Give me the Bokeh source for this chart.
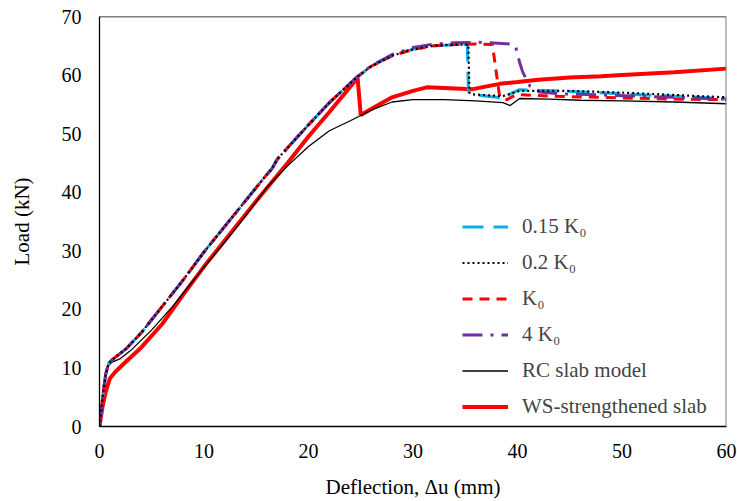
from bokeh.plotting import figure
from bokeh.models import Legend, LegendItem, FixedTicker, Range1d, Span
from bokeh.embed import file_html
from bokeh.resources import INLINE

# ---------------- data ----------------
x_ticks = [0, 10, 20, 30, 40, 50, 60]
y_ticks = [0, 10, 20, 30, 40, 50, 60, 70]

# 0.15 K0
k015_x = [0, 0.3, 0.6, 0.9, 1.5, 2.5, 4, 6, 8, 10, 12, 14, 16, 16.5, 17, 18, 20, 22, 24.6, 26, 28, 30, 32, 34, 35.2,
          35.3, 36, 38, 38.8, 39.3, 40.2, 45, 50, 55, 60]
k015_y = [0, 5, 9, 10.9, 11.8, 13.2, 16, 20.5, 25, 29.8, 34.2, 38.6, 43, 44, 45.6, 47.6, 51.5, 55.3, 59.6, 61.5, 63.3, 64.4, 65, 65.2, 65.2,
          57.2, 56.6, 56.2, 55.9, 56.8, 57.5, 57.2, 56.8, 56.4, 56.0]

# 0.2 K0
k02_x = [0, 0.3, 0.6, 0.9, 1.5, 2.5, 4, 6, 8, 10, 12, 14, 16, 16.5, 17, 18, 20, 22, 24.6, 26, 28, 30, 32, 34, 35.3,
         35.4, 35.7, 38.6, 40.2, 45, 50, 55, 60]
k02_y = [0, 5, 9, 10.9, 11.8, 13.2, 16, 20.5, 25, 29.8, 34.2, 38.6, 43, 44, 45.6, 47.6, 51.5, 55.3, 59.6, 61.5, 63.3, 64.4, 65, 65.2, 65.2,
         57.0, 56.7, 56.4, 57.3, 57.3, 57.0, 56.6, 56.2]

# K0
k1_x = [0, 0.3, 0.6, 0.9, 1.5, 2.5, 4, 6, 8, 10, 12, 14, 16, 16.5, 17, 18, 20, 22, 24.6, 26, 28, 30, 32, 34, 36, 37.6,
        38.3, 39.0, 39.9, 43, 50, 55, 60]
k1_y = [0, 5, 9, 10.9, 11.8, 13.2, 16, 20.5, 25, 29.8, 34.2, 38.6, 43, 44, 45.6, 47.6, 51.5, 55.3, 59.6, 61.5, 63.3, 64.4, 65, 65.2, 65.3, 65.2,
        56.2, 55.8, 56.7, 56.4, 56.1, 55.9, 55.8]

# 4 K0
k4_x = [0, 0.3, 0.6, 0.9, 1.5, 2.5, 4, 6, 8, 10, 12, 14, 16, 16.5, 17, 18, 20, 22, 24.6, 26, 28, 30, 32, 34, 36.4, 39.3, 39.8,
        40.2, 40.5, 41.2, 42.1, 44, 48, 55, 60]
k4_y = [0, 5, 9, 10.9, 11.8, 13.2, 16, 20.5, 25, 29.8, 34.2, 38.6, 43, 44, 45.6, 47.6, 51.5, 55.3, 59.6, 61.6, 63.5, 64.7, 65.3, 65.5, 65.6, 65.3, 65.0,
        62.2, 60.5, 58.1, 57.1, 56.8, 56.6, 56.2, 55.9]

# RC slab model
rc_x = [0, 0.2, 0.5, 0.8, 1.2, 2, 3, 5, 7, 9, 10, 12, 14, 16, 18, 20, 22, 24, 26, 28, 30, 33, 36, 38.6, 39.3, 40.2, 43, 46, 50, 55, 60]
rc_y = [0, 4, 8, 10.3, 11, 11.6, 13, 16.5, 20.5, 25, 27.2, 31.5, 36, 40.8, 44.5, 47.8, 50.5, 52.2, 54, 55.4, 55.8, 55.8, 55.6, 55.3, 54.8, 56, 55.9, 55.7, 55.6, 55.4, 55.1]

# WS-strengthened slab
ws_x = [0, 0.3, 0.6, 1, 1.5, 2.5, 4, 6, 8, 10, 12, 15, 18, 20, 22, 24.7,
        25.0, 26, 28, 30, 31.3, 33, 35.7, 38.3, 40, 42, 45, 48, 50, 55, 60]
ws_y = [0, 3.5, 6, 8.2, 9.3, 11, 13.5, 17.5, 22.5, 27.3, 31.8, 38.5, 45, 49.5, 53.7, 59.5,
        53.2, 54.2, 56.2, 57.3, 57.9, 57.8, 57.6, 58.5, 58.8, 59.2, 59.6, 59.8, 60.0, 60.5, 61.1]

labels = ["0.15 K\u2080", "0.2 K\u2080", "K\u2080", "4 K\u2080", "RC slab model", "WS-strengthened slab"]

# ---------------- figure ----------------
FONT = "Liberation Serif"
p = figure(width=737, height=501, output_backend="svg", toolbar_location=None,
           x_range=Range1d(0, 60), y_range=Range1d(0, 70),
           min_border_left=99, min_border_right=11, min_border_top=16, min_border_bottom=72)
p.xgrid.visible = False
p.ygrid.visible = False
p.outline_line_color = None
p.background_fill_color = "white"
p.border_fill_color = "white"

r_ws = p.line(ws_x, ws_y, line_color="#FF0000", line_width=4)
r_rc = p.line(rc_x, rc_y, line_color="black", line_width=1.3)
r_015 = p.line(k015_x, k015_y, line_color="#00B0F0", line_width=3, line_dash="21 10")
r_k1 = p.line(k1_x, k1_y, line_color="#FF0000", line_width=3, line_dash="10 7")
r_k4 = p.line(k4_x, k4_y, line_color="#7030A0", line_width=3, line_dash="20 8 3 8")
r_02 = p.line(k02_x, k02_y, line_color="black", line_width=2.2, line_dash="2 3")

p.add_layout(Span(location=70, dimension="width", line_color="black", line_width=1.5))
p.add_layout(Span(location=60, dimension="height", line_color="#7f7f7f", line_width=2))

for ax in (p.xaxis[0], p.yaxis[0]):
    ax.major_tick_in = 0
    ax.major_tick_out = 0
    ax.minor_tick_in = 0
    ax.minor_tick_out = 0
    ax.axis_line_color = "black"
    ax.axis_line_width = 1.3
    ax.major_label_text_font = FONT
    ax.major_label_text_font_size = "20px"
    ax.major_label_text_color = "black"
    ax.axis_label_text_font = FONT
    ax.axis_label_text_font_size = "21px"
    ax.axis_label_text_font_style = "normal"
    ax.axis_label_text_color = "black"

p.xaxis.ticker = FixedTicker(ticks=x_ticks)
p.yaxis.ticker = FixedTicker(ticks=y_ticks)
p.xaxis.axis_label = "Deflection, \u0394u (mm)"
p.yaxis.axis_label = "Load (kN)"
p.xaxis.major_label_standoff = 17
p.xaxis.axis_label_standoff = 14
p.yaxis.major_label_standoff = 18
p.yaxis.axis_label_standoff = 25

items = [LegendItem(label=lab, renderers=[r]) for lab, r in
         zip(labels, [r_015, r_02, r_k1, r_k4, r_rc, r_ws])]
legend = Legend(items=items, location=(363, 7), border_line_color=None,
                background_fill_alpha=0, padding=0, margin=0, spacing=11,
                glyph_width=46, glyph_height=25, label_height=25, label_standoff=14,
                label_text_font=FONT, label_text_font_size="21px")
p.add_layout(legend)

open("out.html", "w").write(file_html(p, INLINE))
